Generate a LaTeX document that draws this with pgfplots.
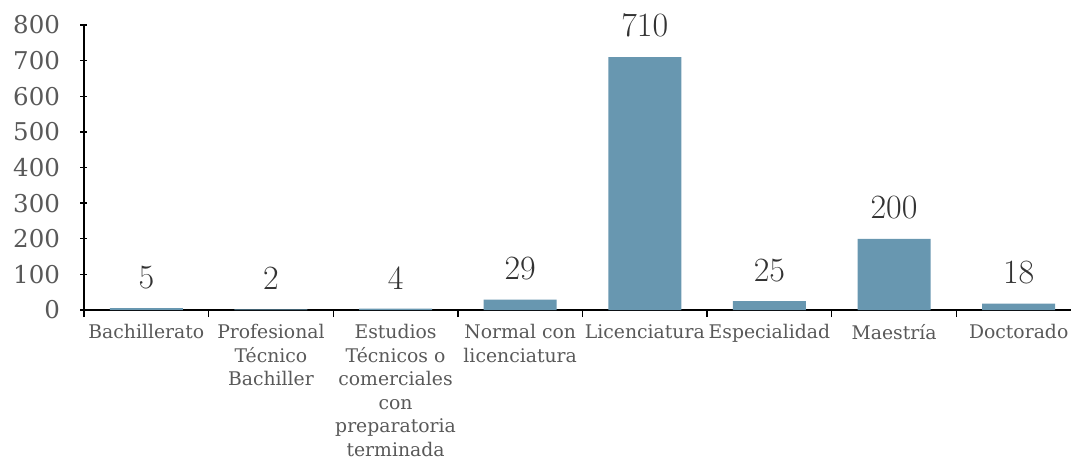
\documentclass[border=0pt]{standalone}
\usepackage{pgfplots}
\pgfplotsset{compat=1.18}
\usepackage{fontspec}
\setmainfont{DejaVu Serif}
\newfontfamily\lm{Latin Modern Roman}
\definecolor{barblue}{RGB}{104,151,176}
\definecolor{labgray}{RGB}{89,89,89}
\definecolor{valgray}{RGB}{51,51,51}
\begin{document}
\begin{tikzpicture}
\begin{axis}[
    name=main,
    scale only axis,
    width=987pt, height=285pt,
    xmin=-0.5, xmax=7.42,
    ymin=0, ymax=800,
    ytick={0,100,...,800},
    xtick={0,...,7},
    xticklabels={Bachillerato, Profesional\\Técnico\\Bachiller, Estudios\\Técnicos o\\comerciales\\con\\preparatoria\\terminada, Normal con\\licenciatura, Licenciatura, Especialidad, Maestría, Doctorado},
    minor xtick={-0.5,0.5,...,6.5},
    major x tick style={draw=none},
    tick align=outside,
    major tick length=7pt,
    minor tick length=7pt,
    every tick/.style={black, line width=1.3pt},
    minor tick style={black, line width=1.3pt},
    axis x line=bottom, axis y line=left,
    axis line style={black, line width=1.3pt, -},
    /pgf/number format/assume math mode=true,
    yticklabel style={font=\fontsize{24.5}{26}\selectfont, text=labgray, xshift=-17pt},
    xticklabel style={font=\fontsize{18.8}{23.5}\selectfont, text=labgray, align=center, anchor=north, yshift=-4pt},
    ybar, bar width=73pt,
    nodes near coords,
    every node near coord/.append style={font=\lm\fontsize{34}{36}\selectfont, text=valgray, yshift=16pt},
]
\addplot[fill=barblue, draw=none] coordinates {
    (0,5) (1,2) (2,4) (3,29) (4,710) (5,25) (6,200) (7,18)
};
\end{axis}
\pgfresetboundingbox
\path (main.south west) ++(-84pt,-154pt) rectangle ++(1071pt,464pt);
\end{tikzpicture}
\end{document}
